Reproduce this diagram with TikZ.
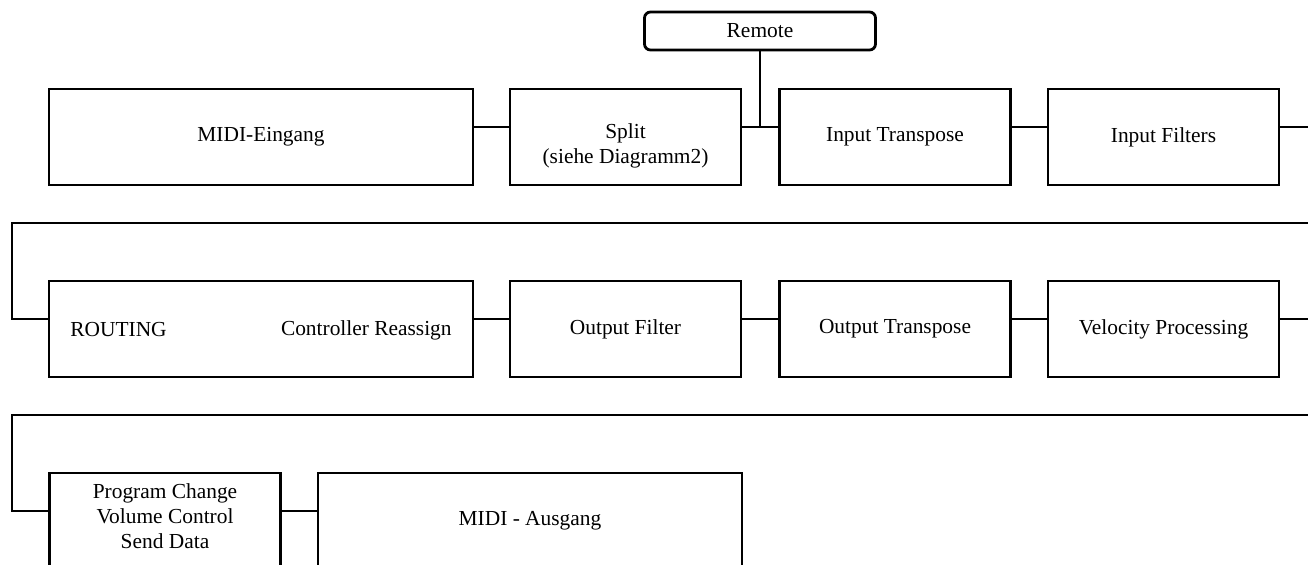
\documentclass[tikz,border=0pt]{standalone}
\usepackage{fontspec}
\setmainfont{Liberation Serif}
\begin{document}
\begin{tikzpicture}[x=0.5pt,y=-0.5pt,line width=1.4pt,
    every node/.style={font=\fontsize{10.7}{12.5}\selectfont},
    box/.style={draw,rectangle,minimum width=115.5pt,minimum height=48pt,align=center,inner sep=0pt},
    widebox/.style={box,minimum width=212pt}]
    \useasboundingbox (0,0) rectangle (1308,564);
    \clip (0,0) rectangle (1308,564);
    % row 1
    \node [widebox] (ein) at (261,137) {MIDI-Eingang};
    \node [box] (split) at (625.5,137) {};
    \node [align=center,inner sep=0pt] (splitlbl) at (625.5,146) {Split\\(siehe Diagramm2)};
    \node [box] (intr) at (895,137) {Input Transpose};
    \node [box] (infilt) at (1163.5,137) {Input Filters};
    \node [box,minimum height=19pt,rounded corners=3pt] (remote) at (760,31) {Remote};
    \coordinate (jct) at (760,127);
    % row 2
    \node [widebox] (rout) at (261,329) {};
    \node [anchor=west,inner sep=0pt] (routlbl) at (69,330) {ROUTING};
    \node [anchor=east,inner sep=0pt] (ctrlbl) at (453,330) {Controller Reassign};
    \node [box] (outfilt) at (625.5,329) {Output Filter};
    \node [box] (outtr) at (895,329) {Output Transpose};
    \node [box] (velo) at (1163.5,329) {Velocity Processing};
    % row 3
    \node [box] (prog) at (165,521) {};
    \node [align=center,inner sep=0pt] (proglbl) at (165,516) {Program Change\\Volume Control\\Send Data};
    \node [widebox] (aus) at (530,521) {MIDI - Ausgang};
    % wrap points
    \coordinate (e1) at (1308,127);
    \coordinate (w1) at (1308,223);
    \coordinate (l1) at (12,223);
    \coordinate (e2) at (1308,319);
    \coordinate (w2) at (1308,415);
    \coordinate (l2) at (12,415);
    % connectors
    \draw ([yshift=5pt]ein.east) -- ([yshift=5pt]split.west);
    \draw ([yshift=5pt]split.east) -- ([yshift=5pt]intr.west);
    \draw (remote) -- (jct);
    \draw ([yshift=5pt]intr.east) -- ([yshift=5pt]infilt.west);
    \draw ([yshift=5pt]infilt.east) -- (e1);
    \draw (w1) -- (l1) |- ([yshift=5pt]rout.west);
    \draw ([yshift=5pt]rout.east) -- ([yshift=5pt]outfilt.west);
    \draw ([yshift=5pt]outfilt.east) -- ([yshift=5pt]outtr.west);
    \draw ([yshift=5pt]outtr.east) -- ([yshift=5pt]velo.west);
    \draw ([yshift=5pt]velo.east) -- (e2);
    \draw (w2) -- (l2) |- ([yshift=5pt]prog.west);
    \draw ([yshift=5pt]prog.east) -- ([yshift=5pt]aus.west);
\end{tikzpicture}
\end{document}
